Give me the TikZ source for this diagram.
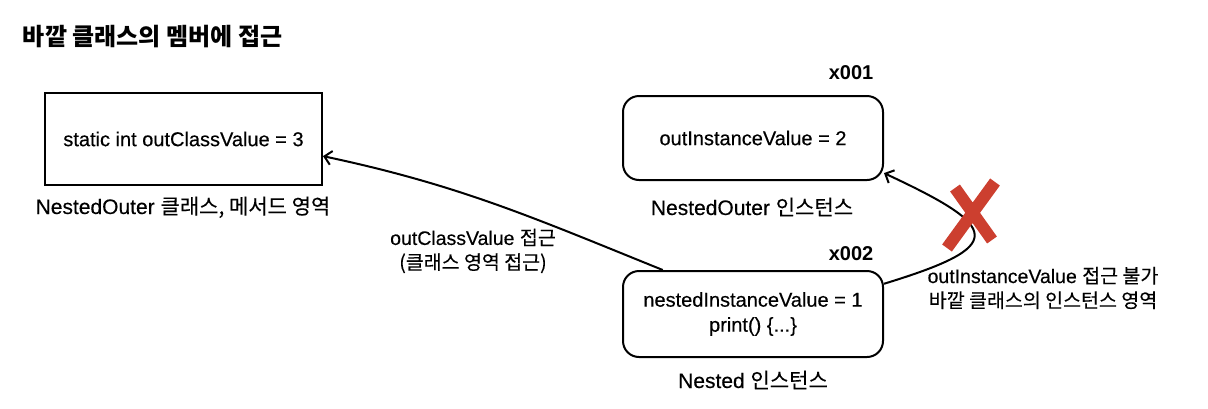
\documentclass[tikz,border=0pt]{standalone}
\usepackage{fontspec}
\setmainfont{Liberation Sans}[UprightFeatures={FakeBold=0.35}]
\newfontfamily\kr{Noto Sans CJK KR}[UprightFeatures={FakeBold=0.3}]
\usetikzlibrary{arrows.meta, calc}
\definecolor{xred}{HTML}{CC3F2F}

\begin{document}
\begin{tikzpicture}[x=1pt, y=1pt, >={Straight Barb[length=7pt, width=14pt]}, line width=2pt,
  membox/.style={draw, line width=2pt, align=center, inner sep=0pt,
    font=\fontsize{20}{25}\selectfont},
  caption/.style={inner sep=0pt, anchor=base, font=\fontsize{21}{25}\selectfont},
  addr/.style={inner sep=0pt, anchor=base, font=\fontsize{20}{24}\selectfont\bfseries},
  note/.style={inner sep=0pt, align=center, font=\fontsize{19.5}{24.5}\selectfont}]

% Canvas
\useasboundingbox (0,0) rectangle (1208,-408);

% Title
\node[inner sep=0pt, anchor=base west, font=\fontsize{24}{28}\selectfont\kr\bfseries] (title)
  at (22,-45) {바깥 클래스의 멤버에 접근};

% --- Class area ---
\node[membox, minimum width=277pt, minimum height=92pt] (cls) at (183.5,-139)
  {static int outClassValue = 3};
\node[caption] (clscap) at (183,-214) {NestedOuter {\kr 클래스, 메서드 영역}};

% --- Outer instance ---
\node[addr] (addr1) at (851,-79) {x001};
\node[membox, rounded corners=16pt, minimum width=260pt, minimum height=84pt] (outer) at (753,-138)
  {outInstanceValue = 2};
\node[caption] (outercap) at (752,-215) {NestedOuter {\kr 인스턴스}};

% --- Nested instance ---
\node[addr] (addr2) at (851,-260) {x002};
\node[membox, rounded corners=16pt, minimum width=260pt, minimum height=86pt] (nested) at (753,-314)
  {nestedInstanceValue = 1\\print() \{...\}};
\node[caption] (nestedcap) at (753,-388) {Nested {\kr 인스턴스}};

% Access to class area
\draw[->] (nested.154.5) to[out=158, in=-12] (cls.-7);
\node[note] (okmsg) at (473,-251) {outClassValue {\kr 접근}\\{\kr (클래스 영역 접근)}};

% Access to outer instance (not allowed)
\draw[->] (nested.13) to[out=17, in=-25, looseness=3] (outer.-15);
\coordinate (nox) at (972,-215);
\draw[xred, line width=12pt] ($(nox)+(23,33)$) -- ($(nox)+(-25,-33)$)
  ($(nox)+(-17,27)$) -- ($(nox)+(20,-25)$);
\node[note] (nomsg) at (1043,-288) {outInstanceValue {\kr 접근 불가}\\{\kr 바깥 클래스의 인스턴스 영역}};

\end{tikzpicture}
\end{document}
